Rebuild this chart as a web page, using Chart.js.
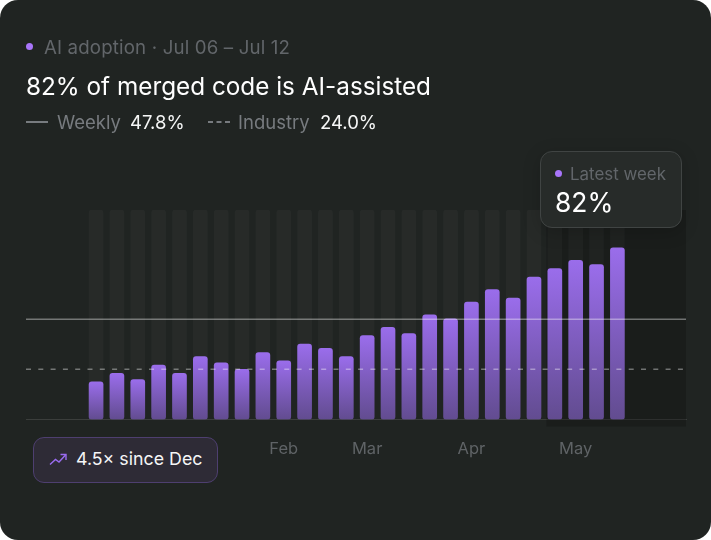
<!DOCTYPE html>
<html>
<head>
<meta charset="utf-8">
<script src="https://cdn.jsdelivr.net/npm/chart.js@4"></script>
<style>
html, body { margin: 0; padding: 0; width: 711px; height: 540px; background: #fff; overflow: hidden; }
body { font-family: Inter, sans-serif; }
.card { position: absolute; left: 0; top: 0; width: 711px; height: 540px; background: #202422; border-radius: 18px; overflow: hidden; }
.card > canvas { position: absolute; left: 0; top: 0; }
.abs { position: absolute; white-space: nowrap; }
.dot { position: absolute; width: 7px; height: 7px; border-radius: 50%; background: #a875fa; }
.sub { color: #62666a; font-size: 18.7px; line-height: 20px; letter-spacing: 0.15px; }
.title { color: #fff; font-size: 24.3px; line-height: 30px; font-weight: 400; }
.leg { color: #777b7f; font-size: 18.5px; line-height: 20px; }
.val { color: #f5f6f6; font-size: 18.5px; line-height: 20px; }
.tip { position: absolute; left: 540px; top: 151px; width: 140px; height: 75px; background: #272b29; border: 1px solid #404443; border-radius: 12px; box-shadow: 0 4px 18px rgba(0,0,0,.18); }
.badge { position: absolute; left: 33px; top: 437px; width: 183px; height: 44px; background: #2e2b36; border: 1px solid #4e3f70; border-radius: 11px; }
</style>
</head>
<body>
<div class="card">
  <canvas id="adoptionChart" width="711" height="540"></canvas>

  <div class="dot" style="left:26px;top:43px"></div>
  <div class="abs sub" style="left:44px;top:38px">AI adoption · Jul 06 – Jul 12</div>
  <div class="abs title" style="left:26px;top:71px">82% of merged code is AI-assisted</div>

  <svg class="abs" style="left:26px;top:117px" width="22" height="10"><line x1="0" y1="5" x2="22" y2="5" stroke="#777b7f" stroke-width="2"/></svg>
  <div class="abs leg" style="left:57px;top:112px">Weekly</div>
  <div class="abs val" style="left:130px;top:112px">47.8%</div>
  <svg class="abs" style="left:208px;top:117px" width="22" height="10"><line x1="0" y1="5" x2="22" y2="5" stroke="#777b7f" stroke-width="2" stroke-dasharray="5 3.5"/></svg>
  <div class="abs leg" style="left:238px;top:112px">Industry</div>
  <div class="abs val" style="left:320px;top:112px">24.0%</div>

  <div class="tip">
    <div class="dot" style="left:14px;top:18px"></div>
    <div class="abs" style="left:29px;top:12px;color:#62666a;font-size:16.9px;line-height:20px">Latest week</div>
    <div class="abs" style="left:14px;top:33px;color:#fff;font-size:26.4px;line-height:34px">82%</div>
  </div>

  <div class="badge">
    <svg class="abs" style="left:15px;top:13px" width="18" height="16" viewBox="0 0 18 16" fill="none" stroke="#9a6cf0" stroke-width="1.4"><path d="M1 13.5 L6.5 8.5 L10 11 L16.5 4"/><path d="M11.5 3.5 H17 V9"/></svg>
    <div class="abs" style="left:42px;top:11px;color:#f5f6f6;font-size:17.8px;line-height:20px">4.5× since Dec</div>
  </div>
</div>

<script>
// 每週 AI 輔助比例
const weekIndex = [0, 1, 2, 3, 4, 5, 6, 7, 8, 9, 10, 11, 12, 13, 14, 15, 16, 17, 18, 19, 20, 21, 22, 23, 24, 25];
const weeklyShare = [18, 22, 19, 26, 22, 30, 27, 24, 32, 28, 36, 34, 30, 40, 44, 41, 50, 48, 56, 62, 58, 68, 72, 76, 74, 82];
const trackValue = weekIndex.map(() => 100);

// 月份刻度
const monthTicks = [9, 13, 18, 23];
const monthLabels = ['Feb', 'Mar', 'Apr', 'May'];

// 參考線
const weeklyLine = 47.8;
const industryLine = 24;
const xRange = [-3.36, 28.29];

const shadePanel = {
    id: 'shadePanel',
    beforeDatasetsDraw(chart) {
        const { ctx, scales } = chart;
        const left = scales.x.getPixelForValue(21.6);
        const right = scales.x.getPixelForValue(xRange[1]);
        const top = scales.y.getPixelForValue(100);
        const bottom = scales.y.getPixelForValue(0) + 7;
        ctx.save();
        ctx.fillStyle = 'rgba(10, 10, 10, 0.28)';
        ctx.fillRect(left, top, right - left, bottom - top);
        ctx.restore();
    }
};

function barGradient(context) {
    const { chart, parsed } = context;
    if (!parsed || !chart.chartArea) return '#9a6cf0';
    const y = chart.scales.y;
    const g = chart.ctx.createLinearGradient(0, y.getPixelForValue(parsed.y), 0, y.getPixelForValue(0));
    g.addColorStop(0, '#9a6deb');
    g.addColorStop(1, '#624c90');
    return g;
}

const ctx = document.getElementById('adoptionChart').getContext('2d');
const adoptionChart = new Chart(ctx, {
    data: {
        datasets: [
            {
                type: 'line',
                data: xRange.map(x => ({ x, y: weeklyLine })),
                borderColor: 'rgba(255, 255, 255, 0.38)',
                borderWidth: 1.5,
                pointRadius: 0,
                order: 1
            },
            {
                type: 'line',
                data: xRange.map(x => ({ x, y: industryLine })),
                borderColor: 'rgba(255, 255, 255, 0.38)',
                borderWidth: 1.5,
                borderDash: [5, 7.3],
                pointRadius: 0,
                order: 1
            },
            {
                type: 'bar',
                data: weekIndex.map((x, i) => ({ x, y: weeklyShare[i] })),
                backgroundColor: barGradient,
                barThickness: 14,
                borderRadius: 3,
                borderSkipped: false,
                grouped: false,
                order: 2
            },
            {
                type: 'bar',
                data: weekIndex.map((x, i) => ({ x, y: trackValue[i] })),
                backgroundColor: 'rgba(255, 255, 255, 0.03)',
                barThickness: 14,
                borderRadius: 3,
                borderSkipped: false,
                grouped: false,
                order: 3
            }
        ]
    },
    options: {
        responsive: false,
        animation: false,
        layout: { padding: { left: 26, right: 25, top: 210, bottom: 0 } },
        scales: {
            x: {
                type: 'linear',
                offset: false,
                min: xRange[0],
                max: xRange[1],
                afterBuildTicks(scale) {
                    scale.ticks = monthTicks.map(value => ({ value }));
                },
                grid: { display: false, drawTicks: false },
                border: { color: 'rgba(255, 255, 255, 0.12)', width: 1 },
                ticks: {
                    autoSkip: false,
                    maxRotation: 0,
                    padding: 20,
                    color: '#5f6366',
                    font: { family: 'Inter', size: 16.5 },
                    callback: value => monthLabels[monthTicks.indexOf(value)]
                },
                afterFit(scale) { scale.height = 120.5; }
            },
            y: {
                display: false,
                min: 0,
                max: 100
            }
        },
        plugins: {
            legend: { display: false },
            tooltip: { enabled: false }
        }
    },
    plugins: [shadePanel]
});
</script>
</body>
</html>
